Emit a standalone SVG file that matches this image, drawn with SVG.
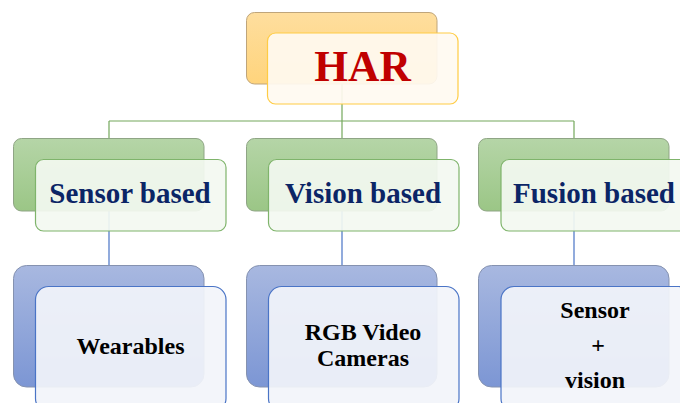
<svg xmlns="http://www.w3.org/2000/svg" width="680" height="403" viewBox="0 0 680 403">
  <defs>
    <linearGradient id="gOrange" x1="0" y1="0" x2="0" y2="1">
      <stop offset="0" stop-color="#fede9e"/>
      <stop offset="1" stop-color="#ffd47c"/>
    </linearGradient>
    <linearGradient id="gGreen" x1="0" y1="0" x2="0" y2="1">
      <stop offset="0" stop-color="#b5d5a7"/>
      <stop offset="1" stop-color="#9bc686"/>
    </linearGradient>
    <linearGradient id="gBlue" x1="0" y1="0" x2="0" y2="1">
      <stop offset="0" stop-color="#a8b8e0"/>
      <stop offset="1" stop-color="#7c96d4"/>
    </linearGradient>
  </defs>
  <style>
    .back-o { fill: url(#gOrange); stroke: #bfa57a; stroke-width: 1; }
    .front-o { fill: #fffaf1; fill-opacity: 0.92; stroke: #ffcc44; stroke-width: 1.2; }
    .back-g { fill: url(#gGreen); stroke: #8fa585; stroke-width: 1; }
    .front-g { fill: #f3f8f1; fill-opacity: 0.92; stroke: #7fb46b; stroke-width: 1.2; }
    .back-b { fill: url(#gBlue); stroke: #8592b0; stroke-width: 1; }
    .front-b { fill: #f2f4fa; fill-opacity: 0.92; stroke: #4a74c6; stroke-width: 1.2; }
    .conn-g { stroke: #74a85c; stroke-width: 1.2; fill: none; }
    .conn-b { stroke: #4a74c6; stroke-width: 1.2; fill: none; }
    text { font-family: "Liberation Serif", "Times New Roman", serif; font-weight: bold; text-anchor: middle; }
    .t-root { font-size: 43.5px; fill: #c00000; }
    .t-cat { font-size: 29px; fill: #0b2566; }
    .t-leaf { font-size: 24px; fill: #000000; }
  </style>

  <!-- connectors -->
  <g id="connectors">
    <path class="conn-g" d="M342 84 V121 M109 121 H574 M109 121 V138 M342 121 V138 M574 121 V138"/>
    <path class="conn-b" d="M109 211 V265 M342 211 V265 M574 211 V265"/>
  </g>

  <!-- root -->
  <g id="node-har">
    <rect class="back-o" x="246.5" y="12.5" width="190.5" height="71.5" rx="8"/>
    <rect class="front-o" x="267.5" y="33" width="190.5" height="71" rx="8"/>
    <text class="t-root" x="362.5" y="81">HAR</text>
  </g>

  <!-- categories -->
  <g id="node-sensor">
    <rect class="back-g" x="13.5" y="138.5" width="190.5" height="72.5" rx="8"/>
    <rect class="front-g" x="35.5" y="159.5" width="190.5" height="71.5" rx="8"/>
    <text class="t-cat" x="130" y="203">Sensor based</text>
  </g>
  <g id="node-vision">
    <rect class="back-g" x="246.5" y="138.5" width="190.5" height="72.5" rx="8"/>
    <rect class="front-g" x="268.5" y="159.5" width="190.5" height="71.5" rx="8"/>
    <text class="t-cat" x="363" y="203">Vision based</text>
  </g>
  <g id="node-fusion">
    <rect class="back-g" x="478.5" y="138.5" width="190.5" height="72.5" rx="8"/>
    <rect class="front-g" x="501" y="159.5" width="190.5" height="71.5" rx="8"/>
    <text class="t-cat" x="594" y="203">Fusion based</text>
  </g>

  <!-- leaves -->
  <g id="node-wearables">
    <rect class="back-b" x="13.5" y="265.5" width="190.5" height="121.5" rx="13"/>
    <rect class="front-b" x="35.5" y="286.5" width="190.5" height="125" rx="13"/>
    <text class="t-leaf" x="130.5" y="354">Wearables</text>
  </g>
  <g id="node-rgb">
    <rect class="back-b" x="246.5" y="265.5" width="190.5" height="121.5" rx="13"/>
    <rect class="front-b" x="268.5" y="286.5" width="190.5" height="125" rx="13"/>
    <text class="t-leaf" x="363" y="340">RGB Video</text>
    <text class="t-leaf" x="363" y="366">Cameras</text>
  </g>
  <g id="node-sensor-vision">
    <rect class="back-b" x="478.5" y="265.5" width="190.5" height="121.5" rx="13"/>
    <rect class="front-b" x="501" y="286.5" width="190.5" height="125" rx="13"/>
    <text class="t-leaf" x="595" y="318">Sensor</text>
    <text class="t-leaf" x="598" y="353">+</text>
    <text class="t-leaf" x="595" y="388">vision</text>
  </g>
</svg>
